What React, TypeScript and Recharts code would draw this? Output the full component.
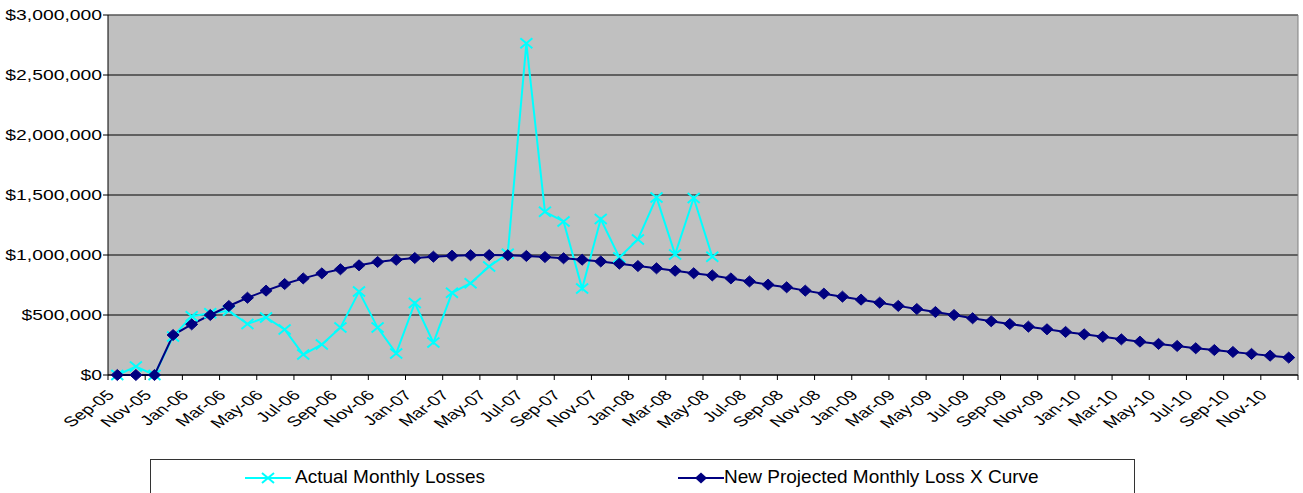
import { LineChart, Line, XAxis, YAxis, CartesianGrid, Legend } from 'recharts'

// month labels, Sep-05 .. Dec-10
const months = [
  'Sep-05', 'Oct-05', 'Nov-05', 'Dec-05',
  'Jan-06', 'Feb-06', 'Mar-06', 'Apr-06', 'May-06', 'Jun-06', 'Jul-06', 'Aug-06', 'Sep-06', 'Oct-06', 'Nov-06', 'Dec-06',
  'Jan-07', 'Feb-07', 'Mar-07', 'Apr-07', 'May-07', 'Jun-07', 'Jul-07', 'Aug-07', 'Sep-07', 'Oct-07', 'Nov-07', 'Dec-07',
  'Jan-08', 'Feb-08', 'Mar-08', 'Apr-08', 'May-08', 'Jun-08', 'Jul-08', 'Aug-08', 'Sep-08', 'Oct-08', 'Nov-08', 'Dec-08',
  'Jan-09', 'Feb-09', 'Mar-09', 'Apr-09', 'May-09', 'Jun-09', 'Jul-09', 'Aug-09', 'Sep-09', 'Oct-09', 'Nov-09', 'Dec-09',
  'Jan-10', 'Feb-10', 'Mar-10', 'Apr-10', 'May-10', 'Jun-10', 'Jul-10', 'Aug-10', 'Sep-10', 'Oct-10', 'Nov-10', 'Dec-10',
]

// actual losses, only up to May-08
const actualLosses = [
  0, 70000, 0, 320000,
  490000, 515000, 535000, 425000, 480000, 380000, 170000, 255000, 395000, 695000, 395000, 180000,
  600000, 270000, 685000, 765000, 905000, 1010000, 2765000, 1360000, 1280000, 720000, 1300000, 980000,
  1130000, 1480000, 1005000, 1475000, 985000,
]

const projectedLosses = [
  0, 0, 0, 333000,
  422000, 500000, 575000, 644000, 703000, 758000, 805000, 847000, 881000, 914000, 942000, 960000,
  975000, 986000, 994000, 998000, 999000, 998000, 992000, 983000, 973000, 961000, 946000, 928000,
  908000, 889000, 869000, 848000, 830000, 805000, 780000, 753000, 731000, 703000, 678000, 653000,
  628000, 603000, 576000, 550000, 525000, 500000, 473000, 448000, 425000, 403000, 381000, 359000,
  339000, 318000, 297000, 278000, 259000, 242000, 223000, 208000, 192000, 176000, 161000, 145000,
]

const yTicks = [0, 500000, 1000000, 1500000, 2000000, 2500000, 3000000]

const data = months.map((m, i) => ({
  month: m,
  actual: i < actualLosses.length ? actualLosses[i] : null,
  projected: projectedLosses[i],
}))

const W = 1303
const H = 493
const Y_W = 108
const RIGHT = 5
const STEP = (W - Y_W - RIGHT) / months.length
const SX = 1.38 // the picture is stretched sideways
const FONT = '"Liberation Sans", Arial, sans-serif'

const money = (v: number) => '$' + v.toLocaleString('en-US')

function YTick({ x, y, payload }: any) {
  return (
    <text transform={`translate(${x},${y}) scale(${SX},1)`} textAnchor="end" dy="0.36em"
      fontSize={14} fontFamily={FONT} fill="#000">
      {money(payload.value)}
    </text>
  )
}

function XTick({ x, y, payload }: any) {
  const bx = x - STEP / 2
  const last = payload.value === months[months.length - 2]
  return (
    <g>
      <line x1={bx} y1={y} x2={bx} y2={y + 5} stroke="#000" />
      {last && <line x1={x + STEP * 1.5} y1={y} x2={x + STEP * 1.5} y2={y + 5} stroke="#000" />}
      <text transform={`translate(${x - 2},${y + 21}) scale(${SX},1) rotate(-45)`} textAnchor="end"
        fontSize={14} fontFamily={FONT} fill="#000">
        {payload.value}
      </text>
    </g>
  )
}

const XDot = (p: any) => {
  const { cx, cy, index, value } = p
  if (cx == null || cy == null || value == null) return <g key={'a' + index} />
  return (
    <path key={'a' + index}
      d={`M${cx - 6},${cy - 5}L${cx + 6},${cy + 5}M${cx - 6},${cy + 5}L${cx + 6},${cy - 5}`}
      stroke="#00FFFF" strokeWidth={2} fill="none" />
  )
}

const Diamond = (p: any) => {
  const { cx, cy, index } = p
  if (cx == null || cy == null) return <g key={'p' + index} />
  return (
    <polygon key={'p' + index}
      points={`${cx},${cy - 5.5} ${cx + 6},${cy} ${cx},${cy + 5.5} ${cx - 6},${cy}`}
      fill="#000080" stroke="#000080" />
  )
}

const renderLegend = () => (
  <div style={{
    position: 'relative', width: 985, height: 40, border: '1px solid #333', borderBottom: 'none',
    boxSizing: 'border-box', fontFamily: FONT, fontSize: 19, color: '#000', background: '#fff',
  }}>
    <svg width={46} height={14} style={{ position: 'absolute', left: 94, top: 11 }}>
      <line x1={0} y1={7} x2={46} y2={7} stroke="#00FFFF" strokeWidth={2} />
      <path d="M17,2L29,12M17,12L29,2" stroke="#00FFFF" strokeWidth={2} />
    </svg>
    <span style={{ position: 'absolute', left: 144, top: 6, whiteSpace: 'nowrap' }}>Actual Monthly Losses</span>
    <svg width={46} height={14} style={{ position: 'absolute', left: 527, top: 11 }}>
      <line x1={0} y1={7} x2={46} y2={7} stroke="#000080" strokeWidth={2} />
      <polygon points="23,1.5 29,7 23,12.5 17,7" fill="#000080" />
    </svg>
    <span style={{ position: 'absolute', left: 573, top: 6, whiteSpace: 'nowrap' }}>New Projected Monthly Loss X Curve</span>
  </div>
)

export default function App() {
  return (
    <div style={{ position: 'absolute', left: 0, top: 0, width: W, height: H, background: '#fff' }}>
      <LineChart width={W} height={H} data={data} margin={{ top: 15, right: RIGHT, left: 0, bottom: 0 }}>
        <CartesianGrid vertical={false} stroke="#000" fill="#C0C0C0" fillOpacity={1} />
        <CartesianGrid
          stroke="#808080"
          horizontalCoordinatesGenerator={({ offset }: any) => [offset.top]}
          verticalCoordinatesGenerator={({ offset }: any) => [offset.left + offset.width]}
        />
        <XAxis dataKey="month" scale="band" interval={1} height={118} tickLine={false}
          tickSize={0} tickMargin={0} axisLine={{ stroke: '#000' }} tick={<XTick />} />
        <YAxis width={Y_W} domain={[0, 3000000]} ticks={yTicks} interval={0} tickSize={5} tickMargin={1}
          axisLine={{ stroke: '#000' }} tickLine={{ stroke: '#000' }} tick={<YTick />} />
        <Legend verticalAlign="middle" content={renderLegend}
          wrapperStyle={{ position: 'absolute', left: 150, top: 459, width: 985, height: 40 }} />
        <Line dataKey="actual" stroke="#00FFFF" strokeWidth={2} dot={XDot} activeDot={false}
          isAnimationActive={false} />
        <Line dataKey="projected" stroke="#000080" strokeWidth={2} dot={Diamond} activeDot={false}
          isAnimationActive={false} />
      </LineChart>
    </div>
  )
}
